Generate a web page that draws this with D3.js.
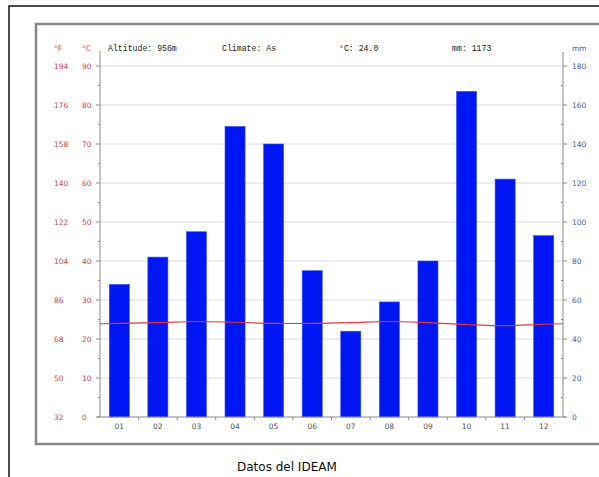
<!DOCTYPE html>
<html><head><meta charset="utf-8">
<script src="https://cdn.jsdelivr.net/npm/d3@7"></script>
<style>body{margin:0;background:#fff;}svg{display:block;}</style>
</head><body>
<svg id="c" width="599" height="477"></svg>
<script>
const months = ["01","02","03","04","05","06","07","08","09","10","11","12"];
const precip = [68, 82, 95, 149, 140, 75, 44, 59, 80, 167, 122, 93];
const temp = [24.0, 24.2, 24.5, 24.3, 24.0, 24.0, 24.2, 24.5, 24.2, 23.7, 23.4, 23.8];
const cTicks = [0,10,20,30,40,50,60,70,80,90];
const fTicks = ["32","50","68","86","104","122","140","158","176","194"];
const mmTicks = [0,20,40,60,80,100,120,140,160,180];
const header = {alt:"Altitude: 956m", clim:"Climate: As", tc:"°C: 24.0", mm:"mm: 1173"};
const source = "Datos del IDEAM";

const svg = d3.select("#c");
const L = 100, R = 563, T = 66, B = 417;

// frames
svg.append("rect").attr("x",9).attr("y",6).attr("width",640).attr("height",500)
  .attr("fill","none").attr("stroke","#111").attr("stroke-width",1.5);
svg.append("rect").attr("x",36).attr("y",24).attr("width",640).attr("height",420)
  .attr("fill","#fff").attr("stroke","#888").attr("stroke-width",2.5);

const x = d3.scaleBand().domain(months).range([L,R]).paddingInner(0.48).paddingOuter(0.24);
const yC = d3.scaleLinear().domain([0,90]).range([B,T]);
const yM = d3.scaleLinear().domain([0,180]).range([B,T]);

// grid
svg.append("g").selectAll("line").data(cTicks.filter(d=>d>0)).join("line")
  .attr("x1",L).attr("x2",R).attr("y1",d=>yC(d)).attr("y2",d=>yC(d))
  .attr("stroke","#dcdcdc").attr("stroke-width",1);

// bars
svg.append("g").selectAll("rect").data(precip).join("rect")
  .attr("x",(d,i)=>x(months[i])).attr("width",x.bandwidth())
  .attr("y",d=>yM(d)).attr("height",d=>B-yM(d))
  .attr("fill","#0016f2").attr("stroke","#3a50ff").attr("stroke-width",0.6);

// temperature line (cyclic)
const step = x.step();
const pts = [[x(months[0])+x.bandwidth()/2-step, temp[11]]]
  .concat(temp.map((t,i)=>[x(months[i])+x.bandwidth()/2, t]))
  .concat([[x(months[11])+x.bandwidth()/2+step, temp[0]]]);
svg.append("clipPath").attr("id","pc").append("rect").attr("x",L).attr("y",T-20).attr("width",R-L).attr("height",B-T+20);
svg.append("path").attr("clip-path","url(#pc)")
  .attr("d", d3.line().x(d=>d[0]).y(d=>yC(d[1])).curve(d3.curveCatmullRom)(pts))
  .attr("fill","none").attr("stroke","#e8383c").attr("stroke-width",1.1);

// axes lines
const ax = svg.append("g").attr("stroke","#8a8a8a").attr("stroke-width",1);
ax.append("line").attr("x1",L).attr("x2",L).attr("y1",51).attr("y2",B);
ax.append("line").attr("x1",R).attr("x2",R).attr("y1",52).attr("y2",B);
ax.append("line").attr("x1",L-3).attr("x2",R+3).attr("y1",B).attr("y2",B);
// major ticks
cTicks.forEach(d=>{ ax.append("line").attr("x1",L-4).attr("x2",L).attr("y1",yC(d)).attr("y2",yC(d)); });
mmTicks.forEach(d=>{ ax.append("line").attr("x1",R).attr("x2",R+4).attr("y1",yM(d)).attr("y2",yM(d)); });
// minor ticks
cTicks.slice(0,-1).forEach(d=>{
  ax.append("line").attr("x1",L-2).attr("x2",L).attr("y1",yC(d+5)).attr("y2",yC(d+5));
  ax.append("line").attr("x1",R-2).attr("x2",R).attr("y1",yC(d+5)).attr("y2",yC(d+5));
});
// x ticks between bands
d3.range(1,12).forEach(k=>{ ax.append("line").attr("x1",L+k*step).attr("x2",L+k*step).attr("y1",B).attr("y2",B+3); });

// labels
const lf = "DejaVu Sans, Verdana, sans-serif";
const lab = svg.append("g").attr("font-family",lf).attr("font-size",7.5);
cTicks.forEach((d,i)=>{
  lab.append("text").attr("x",54).attr("y",yC(d)).attr("dy","0.35em").attr("fill","#d04848").text(fTicks[i]);
  lab.append("text").attr("x",82).attr("y",yC(d)).attr("dy","0.35em").attr("fill","#d04848").text(d);
});
mmTicks.forEach(d=>{
  lab.append("text").attr("x",572).attr("y",yM(d)).attr("dy","0.35em").attr("fill","#4060b0").text(d);
});
months.forEach(m=>{
  lab.append("text").attr("x",x(m)+x.bandwidth()/2).attr("y",B+9).attr("dy","0.35em")
    .attr("text-anchor","middle").attr("fill","#555").text(m);
});
lab.append("text").attr("x",54).attr("y",48).attr("dy","0.35em").attr("fill","#d04848").text("°F");
lab.append("text").attr("x",82).attr("y",48).attr("dy","0.35em").attr("fill","#d04848").text("°C");
lab.append("text").attr("x",572).attr("y",48).attr("dy","0.35em").attr("fill","#4060b0").text("mm");

const hd = svg.append("g").attr("font-family","Liberation Mono, DejaVu Sans Mono, monospace").attr("font-size",8.2).attr("fill","#222");
hd.append("text").attr("x",108).attr("y",48).attr("dy","0.35em").text(header.alt);
hd.append("text").attr("x",222).attr("y",48).attr("dy","0.35em").text(header.clim);
hd.append("text").attr("x",339).attr("y",48).attr("dy","0.35em").text(header.tc);
hd.append("text").attr("x",452).attr("y",48).attr("dy","0.35em").text(header.mm);

svg.append("text").attr("x",237).attr("y",471).attr("font-family",lf).attr("font-size",12)
  .attr("fill","#111").text(source);
</script>
</body></html>
